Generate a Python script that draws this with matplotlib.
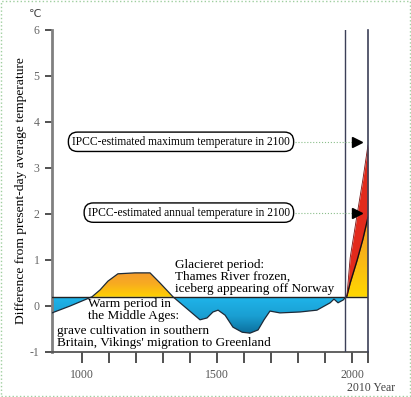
import numpy as np
import matplotlib
matplotlib.use("Agg")
import matplotlib.pyplot as plt
from matplotlib.colors import LinearSegmentedColormap
from matplotlib.patches import Rectangle
from matplotlib.path import Path

# ---- data ----
years = [889, 956, 1037, 1067, 1096, 1133, 1196, 1252, 1289, 1337, 1381, 1437,
         1463, 1485, 1504, 1530, 1559, 1593, 1622, 1652, 1674, 1696, 1733,
         1807, 1870, 1919, 1933, 1948, 1967, 1981]
temps = [-0.15, 0.0, 0.2, 0.35, 0.54, 0.70, 0.72, 0.72, 0.50, 0.2, -0.02, -0.30,
         -0.26, -0.13, -0.09, -0.20, -0.46, -0.57, -0.59, -0.52, -0.30, -0.11, -0.15,
         -0.13, -0.09, 0.07, 0.15, 0.07, 0.13, 0.22]
proj_years = [1981, 1993, 2019, 2040, 2059]
proj_annual = [0.22, 0.50, 1.00, 1.45, 1.93]
proj_max = [0.22, 1.05, 2.00, 2.75, 3.50]
baseline = 0.2
present_year = 1974
end_year = 2059
max_2100 = 3.57
annual_2100 = 2.03
xticks = [1000, 1100, 1200, 1300, 1400, 1500, 1600, 1700, 1800, 1900, 2000, 2059]
xtick_labels = ["1000", "", "", "", "", "1500", "", "", "", "", "2000", ""]
yticks = [-1, 0, 1, 2, 3, 4, 5, 6]

serif = ["Liberation Serif", "DejaVu Serif"]
plt.rcParams['font.family'] = serif

W, H = 411, 397
fig = plt.figure(figsize=(W / 100, H / 100), dpi=100)
ax = fig.add_axes([52 / W, (H - 352) / H, (368 - 52) / W, (352 - 30) / H])

xmin, xmax = 889, end_year
ax.set_xlim(xmin, xmax)
ax.set_ylim(-1, 6)

x = np.array(years, float)
t = np.array(temps, float)

def gradient_fill(xs, y1, y2, where, colors, ylo, yhi):
    poly = ax.fill_between(xs, y1, y2, where=where, interpolate=True,
                           facecolor='none', edgecolor='none')
    path = Path.make_compound_path(*poly.get_paths())
    cmap = LinearSegmentedColormap.from_list('g', colors)
    grad = np.linspace(0, 1, 256).reshape(-1, 1)
    im = ax.imshow(grad, extent=[xmin, xmax, ylo, yhi], origin='lower',
                   aspect='auto', cmap=cmap, zorder=1, interpolation='bilinear')
    im.set_clip_path(path, ax.transData)
    return poly

# blue (cool) areas: darker further below
gradient_fill(x, t, baseline, t <= baseline, ['#0a6a98', '#1a9fd2', '#1fb4ea'], -0.62, baseline)
# warm areas
gradient_fill(x, t, baseline, t >= baseline, ['#ffd200', '#f8ac20', '#f49a30'], baseline, 0.75)

px = np.array(proj_years, float)
pa = np.array(proj_annual, float)
pm = np.array(proj_max, float)
gradient_fill(px, baseline, pa, None, ['#ffd800', '#f8b418', '#f59a20'], baseline, 2.0)
ax.fill_between(px, pa, pm, color='#e22a1c', zorder=2, linewidth=0)

ax.plot(x, t, color='#1c2a38', lw=0.9, zorder=3)
ax.plot(px, pa, color='#111111', lw=1.0, zorder=3)
ax.plot(px, pm, color='#7a1010', lw=0.6, zorder=3)
ax.plot([xmin, xmax], [baseline, baseline], color='#222222', lw=1.0, zorder=3)

# vertical lines
ax.axvline(present_year, color='#3c4058', lw=1.0, zorder=4)
ax.axvline(end_year, color='#3c4058', lw=1.2, zorder=4, clip_on=False)

# axes styling
for s in ['top', 'right']:
    ax.spines[s].set_visible(False)
ax.spines['left'].set_color('#808080')
ax.spines['left'].set_linewidth(2)
ax.spines['bottom'].set_color('#555555')
ax.spines['bottom'].set_linewidth(1.3)
ax.set_xticks(xticks)
ax.set_xticklabels(xtick_labels)
ax.set_yticks(yticks)
ax.set_yticklabels([str(v) for v in yticks])
ax.tick_params(axis='x', direction='out', length=8, width=1.2, color='#333333',
               labelsize=8.5, labelcolor='#555555', pad=4)
ax.tick_params(axis='y', direction='out', length=5, width=1.2, color='#333333',
               labelsize=8.5, labelcolor='#666666', pad=4)

ax.set_ylabel('Difference from present-day average temperature', fontsize=9.7,
              labelpad=2)
fig.text(35 / W, 1 - 14 / H, '℃', fontsize=8, color='#444444',
         family=['DejaVu Sans'], ha='center', va='center')
fig.text(371 / W, 1 - 388 / H, '2010 Year', fontsize=8.5, color='#444444',
         ha='center', va='center')

# IPCC labels with arrows
for yv, txt in [(max_2100, 'IPCC-estimated maximum temperature in 2100'),
                (annual_2100, 'IPCC-estimated annual temperature in 2100')]:
    ax.plot([1790, 2012], [yv, yv], color='#8cbf8c', lw=0.8, ls=':', zorder=4)
    ax.plot([2019], [yv], marker='>', color='black', markersize=7.5, zorder=5)
    ax.text(1770, yv, txt, ha='right', va='center', fontsize=8.3,
            bbox=dict(boxstyle='round,pad=0.32,rounding_size=0.8', fc='white',
                      ec='black', lw=1), zorder=6)

ax.text(1344, 0.63, 'Glacieret period:\nThames River frozen,\niceberg appearing off Norway',
        ha='left', va='center', fontsize=9.5, linespacing=0.95, zorder=6)
ax.text(1022, -0.09, "Warm period in\nthe Middle Ages:",
        ha='left', va='center', fontsize=9.5, linespacing=1.0, zorder=6)
ax.text(907, -0.67, "grave cultivation in southern\nBritain, Vikings' migration to Greenland",
        ha='left', va='center', fontsize=9.5, linespacing=0.95, zorder=6)

# dotted green frame
fig.patches.append(Rectangle((0.002, 0.003), 0.995, 0.994, transform=fig.transFigure,
                             fill=False, ec='#9fcf9f', lw=1, ls=':'))

fig.savefig('out.png', dpi=100)
